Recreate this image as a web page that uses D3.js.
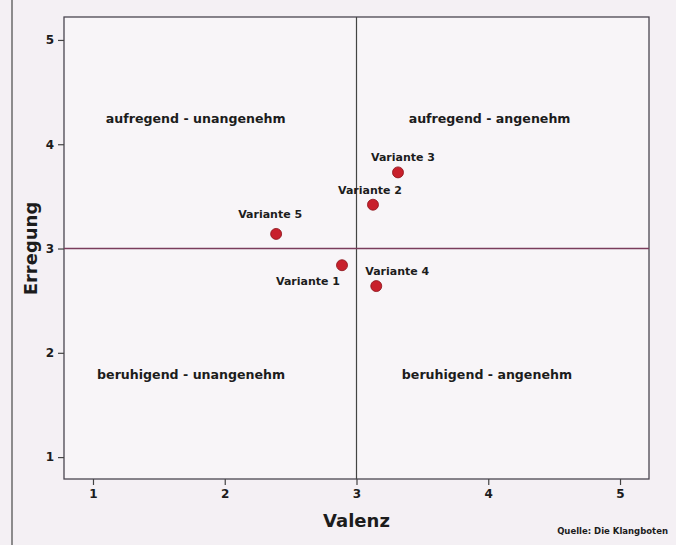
<!DOCTYPE html>
<html>
<head>
<meta charset="utf-8">
<script src="https://cdn.jsdelivr.net/npm/d3@7"></script>
<style>
  body { margin: 0; background: #f4f0f4; }
  text { font-family: "DejaVu Sans", Verdana, sans-serif; font-weight: bold; fill: #1c1c1c; }
</style>
</head>
<body>
<div id="chart"></div>
<script>
var w = 676, h = 545;

// data
var names = ["Variante 1", "Variante 2", "Variante 3", "Variante 4", "Variante 5"];
var valenz = [2.89, 3.125, 3.315, 3.15, 2.39];
var erregung = [2.84, 3.42, 3.73, 2.64, 3.14];
var ticks = [1, 2, 3, 4, 5];
var quadrants = ["aufregend - unangenehm", "aufregend - angenehm", "beruhigend - unangenehm", "beruhigend - angenehm"];

var box = {left: 64, right: 649, top: 17, bottom: 479};

var x = d3.scaleLinear().domain([0.78, 5.22]).range([box.left, box.right]);
var y = d3.scaleLinear().domain([0.79, 5.22]).range([box.bottom, box.top]);

var svg = d3.select("#chart").append("svg")
    .attr("width", w).attr("height", h);

// page edge from the scan
svg.append("line").attr("x1", 12).attr("x2", 12).attr("y1", 0).attr("y2", h)
    .attr("stroke", "#6a6a6a").attr("stroke-width", 1.5);

svg.append("rect")
    .attr("x", box.left).attr("y", box.top)
    .attr("width", box.right - box.left).attr("height", box.bottom - box.top)
    .attr("fill", "#f8f5f8").attr("stroke", "#4a4550").attr("stroke-width", 1.3);

// centre cross
svg.append("line")
    .attr("x1", x(3)).attr("x2", x(3)).attr("y1", box.top).attr("y2", box.bottom)
    .attr("stroke", "#444").attr("stroke-width", 1.2);
svg.append("line")
    .attr("x1", box.left).attr("x2", box.right).attr("y1", y(3)).attr("y2", y(3))
    .attr("stroke", "#7a3c5c").attr("stroke-width", 1.5);

var xAxis = svg.append("g").attr("transform", "translate(0," + box.bottom + ")")
    .call(d3.axisBottom(x).tickValues(ticks).tickFormat(d3.format("d")).tickSize(6).tickPadding(4));
var yAxis = svg.append("g").attr("transform", "translate(" + box.left + ",0)")
    .call(d3.axisLeft(y).tickValues(ticks).tickFormat(d3.format("d")).tickSize(6).tickPadding(4));
[xAxis, yAxis].forEach(function(a) {
  a.select(".domain").remove();
  a.selectAll(".tick line").attr("stroke", "#444").attr("stroke-width", 1.2);
  a.selectAll(".tick text").style("font-size", "12px").attr("fill", "#333");
});

// quadrant labels
var qpos = [[1.78, 4.2], [4.01, 4.2], [1.745, 1.75], [3.99, 1.75]];
svg.selectAll(".quad").data(quadrants).enter().append("text")
    .attr("class", "quad")
    .attr("x", function(d, i) { return x(qpos[i][0]); })
    .attr("y", function(d, i) { return y(qpos[i][1]); })
    .attr("text-anchor", "middle")
    .style("font-size", "12.6px")
    .text(function(d) { return d; });

var pts = names.map(function(n, i) { return {name: n, vx: valenz[i], ey: erregung[i]}; });
// label offsets relative to the point
var off = {"Variante 1": [-2, 20, "end"], "Variante 2": [-3, -11, "middle"], "Variante 3": [5, -11, "middle"],
           "Variante 4": [21, -11, "middle"], "Variante 5": [-6, -16, "middle"]};

svg.selectAll(".pt").data(pts).enter().append("circle")
    .attr("class", "pt")
    .attr("cx", function(d) { return x(d.vx); })
    .attr("cy", function(d) { return y(d.ey); })
    .attr("r", 5.5)
    .attr("fill", "#c8202c").attr("stroke", "#8a1018").attr("stroke-width", 0.8);

svg.selectAll(".lbl").data(pts).enter().append("text")
    .attr("class", "lbl")
    .attr("x", function(d) { return x(d.vx) + off[d.name][0]; })
    .attr("y", function(d) { return y(d.ey) + off[d.name][1]; })
    .attr("text-anchor", function(d) { return off[d.name][2]; })
    .style("font-size", "11px")
    .text(function(d) { return d.name; });

svg.append("text").attr("x", x(3)).attr("y", 527).attr("text-anchor", "middle")
    .style("font-size", "18px").text("Valenz");
svg.append("text").attr("transform", "translate(37," + y(3) + ") rotate(-90)")
    .attr("text-anchor", "middle").style("font-size", "18px").text("Erregung");
svg.append("text").attr("x", 668).attr("y", 534).attr("text-anchor", "end")
    .style("font-size", "8.5px").text("Quelle: Die Klangboten");
</script>
</body>
</html>
